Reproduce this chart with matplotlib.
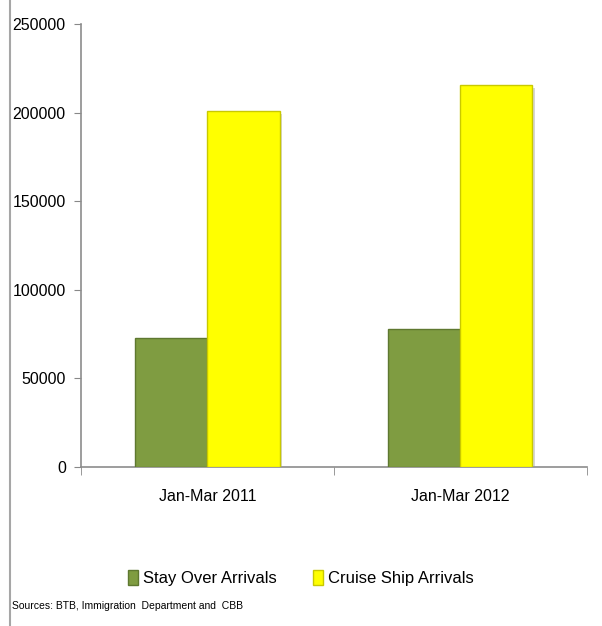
import numpy as np
import matplotlib
matplotlib.use("Agg")
import matplotlib.pyplot as plt
import matplotlib.patheffects as pe
from matplotlib.lines import Line2D
from matplotlib.patches import Patch

plt.rcParams['font.family'] = ['Liberation Sans', 'DejaVu Sans']

periods = ['Jan-Mar 2011', 'Jan-Mar 2012']
stay_over = [73000, 78000]
cruise = [201000, 215500]
series_names = ['Stay Over Arrivals', 'Cruise Ship Arrivals']
yticks = [0, 50000, 100000, 150000, 200000, 250000]

green = '#7f9c41'
yellow = '#ffff00'

fig = plt.figure(figsize=(6.02, 6.26), dpi=100)
ax = fig.add_axes([0.1346, 0.254, 0.84, 0.7077])

x = np.arange(len(periods))
w = 0.285
shadow = [pe.SimplePatchShadow(offset=(2, -2), shadow_rgbFace='#999999', alpha=0.4), pe.Normal()]
b1 = ax.bar(x - w / 2, stay_over, w, color=green, edgecolor='#5e7830', linewidth=1.0, zorder=3)
b2 = ax.bar(x + w / 2, cruise, w, color=yellow, edgecolor='#c9c900', linewidth=1.0, zorder=3)
for p in list(b1) + list(b2):
    p.set_path_effects(shadow)

ax.set_xlim(-0.5, 1.5)
ax.set_ylim(0, 250000)
ax.set_yticks(yticks)
ax.set_yticklabels([str(v) for v in yticks], fontsize=11.5)
ax.set_xticks(x)
ax.set_xticklabels(periods, fontsize=11.5)
ax.tick_params(axis='x', length=0, pad=16)
ax.set_xticks([-0.5, 0.5, 1.5], minor=True)
ax.tick_params(axis='x', which='minor', length=6, color='#888888', direction='out')
ax.tick_params(axis='y', length=5, color='#888888', pad=6)

for s in ['top', 'right']:
    ax.spines[s].set_visible(False)
for s in ['left', 'bottom']:
    ax.spines[s].set_color('#8c8c8c')
    ax.spines[s].set_linewidth(1.2)

handles = [Patch(facecolor=green, edgecolor='#5e7830'), Patch(facecolor=yellow, edgecolor='#c9c900')]
fig.legend(handles, series_names, loc='center', bbox_to_anchor=(0.5, 0.077), ncol=2,
           frameon=False, fontsize=12, handlelength=0.6, handleheight=1.0,
           handletextpad=0.3, columnspacing=2.2)

fig.text(0.02, 0.032, 'Sources: BTB, Immigration  Department and  CBB', fontsize=7.5, va='center')

fig.add_artist(Line2D([0.0166, 0.0166], [0.0, 1.0], color='#a6a6a6', linewidth=1.5))

fig.savefig('out.png', dpi=100)
